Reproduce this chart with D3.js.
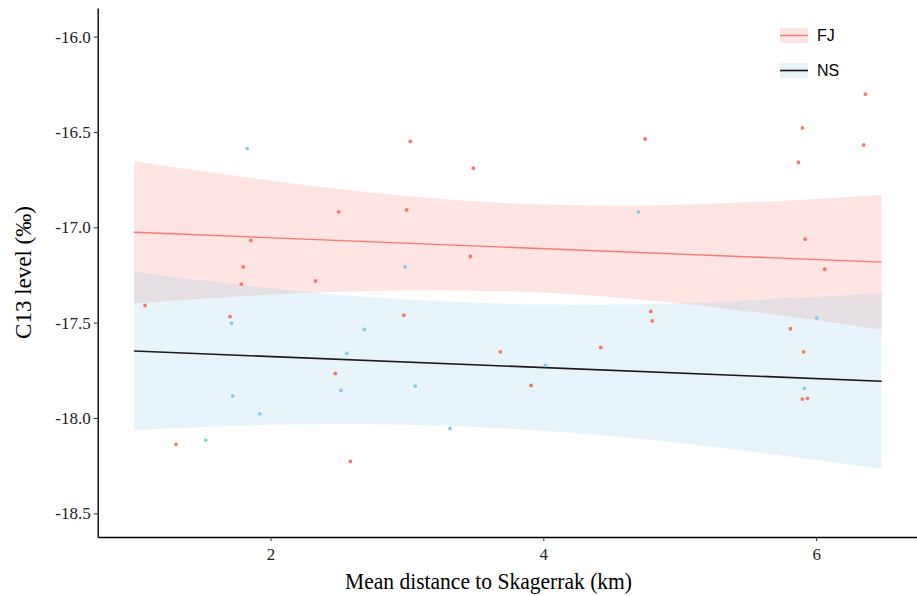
<!DOCTYPE html>
<html lang="en">
<head>
    <meta charset="UTF-8">
    <title>C13 level vs distance</title>
    <script src="https://cdn.jsdelivr.net/npm/d3@7/dist/d3.min.js"></script>
    <style>
        body { margin: 0; background: #fff; }
    </style>
</head>
<body>
    <script>
        // groups
        var groups = ["FJ", "NS"];
        var colors = { FJ: "#F8766D", NS: "#87CEEB" };
        var lineColors = { FJ: "#F8766D", NS: "#1a1a1a" };

        // points
        var fjX = [1.08, 2.50, 1.855, 1.80, 1.786, 2.33, 1.703, 2.475, 1.307, 2.585,
                   3.025, 3.487, 4.746, 2.998, 3.465, 2.977, 4.787, 4.799, 4.421, 3.685,
                   3.910, 6.361, 5.899, 6.349, 5.870, 5.920, 6.063, 5.811, 5.908, 5.899, 5.936];
        var fjY = [-17.410, -16.919, -17.069, -17.208, -17.298, -17.281, -17.468, -17.766, -18.138, -18.227,
                   -16.549, -16.690, -16.537, -16.909, -17.153, -17.461, -17.441, -17.491, -17.630, -17.653,
                   -17.829, -16.302, -16.479, -16.568, -16.660, -17.062, -17.220, -17.532, -17.653, -17.901, -17.897];
        var nsX = [1.829, 1.713, 2.688, 2.559, 2.517, 1.723, 1.921, 1.525, 4.697, 2.987,
                   4.015, 3.061, 3.316, 6.004, 5.914];
        var nsY = [-16.587, -17.503, -17.536, -17.660, -17.855, -17.885, -17.978, -18.116, -16.919, -17.208,
                   -17.724, -17.833, -18.055, -17.475, -17.845];

        // fitted lines (end points) and confidence ribbons
        var fitX = [1.0, 6.48];
        var fjFit = [-17.026, -17.183];
        var nsFit = [-17.649, -17.807];
        var bandX = [1.0, 2, 3, 4, 5, 6, 6.48];
        var fjUpper = [-16.654, -16.756, -16.836, -16.881, -16.882, -16.851, -16.829];
        var fjLower = [-17.398, -17.353, -17.330, -17.343, -17.399, -17.487, -17.537];
        var nsUpper = [-17.235, -17.320, -17.379, -17.404, -17.398, -17.366, -17.345];
        var nsLower = [-18.063, -18.036, -18.035, -18.067, -18.131, -18.220, -18.268];

        var xTicks = [2, 4, 6];
        var yTicks = [-16.0, -16.5, -17.0, -17.5, -18.0, -18.5];

        var width = 917, height = 596;
        var plotLeft = 97.7, plotTop = 8, plotBottom = 537;
        var serif = "'Liberation Serif', 'Times New Roman', serif";

        var x = d3.scaleLinear().domain([0.733, 6.754]).range([plotLeft, 919]);
        var y = d3.scaleLinear().domain([-18.624, -15.85]).range([plotBottom, plotTop]);

        var svg = d3.select("body").append("svg")
            .attr("width", width)
            .attr("height", height);

        var bands = {
            FJ: bandX.map((d, i) => ({ x: d, lo: fjLower[i], hi: fjUpper[i] })),
            NS: bandX.map((d, i) => ({ x: d, lo: nsLower[i], hi: nsUpper[i] }))
        };
        var fits = {
            FJ: fitX.map((d, i) => ({ x: d, y: fjFit[i] })),
            NS: fitX.map((d, i) => ({ x: d, y: nsFit[i] }))
        };
        var points = {
            FJ: fjX.map((d, i) => ({ x: d, y: fjY[i] })),
            NS: nsX.map((d, i) => ({ x: d, y: nsY[i] }))
        };

        var area = d3.area()
            .x(d => x(d.x))
            .y0(d => y(d.lo))
            .y1(d => y(d.hi))
            .curve(d3.curveNatural);

        var line = d3.line()
            .x(d => x(d.x))
            .y(d => y(d.y));

        groups.forEach(function (g) {
            svg.append("path")
                .attr("d", area(bands[g]))
                .attr("fill", colors[g])
                .attr("fill-opacity", 0.2);
        });

        groups.forEach(function (g) {
            svg.append("path")
                .attr("d", line(fits[g]))
                .attr("fill", "none")
                .attr("stroke", lineColors[g])
                .attr("stroke-width", g == "NS" ? 1.6 : 1.3);
        });

        groups.forEach(function (g) {
            svg.append("g").selectAll("circle")
                .data(points[g])
                .enter()
                .append("circle")
                .attr("cx", d => x(d.x))
                .attr("cy", d => y(d.y))
                .attr("r", 1.9)
                .attr("fill", colors[g]);
        });

        // axes
        var yAxis = svg.append("g")
            .attr("transform", "translate(" + plotLeft + ",0)")
            .call(d3.axisLeft(y).tickValues(yTicks).tickFormat(d => d.toFixed(1)).tickSize(4).tickSizeOuter(0).tickPadding(3));

        var xAxis = svg.append("g")
            .attr("transform", "translate(0," + plotBottom + ")")
            .call(d3.axisBottom(x).tickValues(xTicks).tickFormat(d => d).tickSize(4).tickSizeOuter(0).tickPadding(7));

        [xAxis, yAxis].forEach(function (a) {
            a.attr("font-family", serif).attr("font-size", 17);
            a.select(".domain").attr("stroke", "#000").attr("stroke-width", 1.4);
            a.selectAll(".tick line").attr("stroke", "#333").attr("stroke-width", 1);
            a.selectAll(".tick text").attr("fill", "#222");
        });

        svg.append("text")
            .attr("x", 488.5)
            .attr("y", 589)
            .attr("text-anchor", "middle")
            .attr("textLength", 287)
            .attr("lengthAdjust", "spacingAndGlyphs")
            .style("font-family", serif)
            .style("font-size", "24px")
            .text("Mean distance to Skagerrak (km)");

        svg.append("text")
            .attr("transform", "translate(31," + ((plotTop + plotBottom) / 2) + ") rotate(-90)")
            .attr("text-anchor", "middle")
            .style("font-family", serif)
            .style("font-size", "23px")
            .text("C13 level (‰)");

        // legend
        var legend = svg.append("g").attr("transform", "translate(780,28)");
        groups.forEach(function (g, i) {
            var row = legend.append("g").attr("transform", "translate(0," + (i * 35) + ")");
            row.append("rect")
                .attr("width", 28)
                .attr("height", 15)
                .attr("fill", colors[g])
                .attr("fill-opacity", 0.2);
            row.append("line")
                .attr("x1", 0).attr("x2", 28)
                .attr("y1", 7.5).attr("y2", 7.5)
                .attr("stroke", lineColors[g])
                .attr("stroke-width", g == "NS" ? 1.6 : 1.3);
            row.append("text")
                .attr("x", 37)
                .attr("y", 7.5)
                .attr("dy", "0.36em")
                .style("font-family", "'Liberation Sans', Arial, sans-serif")
                .style("font-size", "16px")
                .text(g);
        });
    </script>
</body>
</html>
